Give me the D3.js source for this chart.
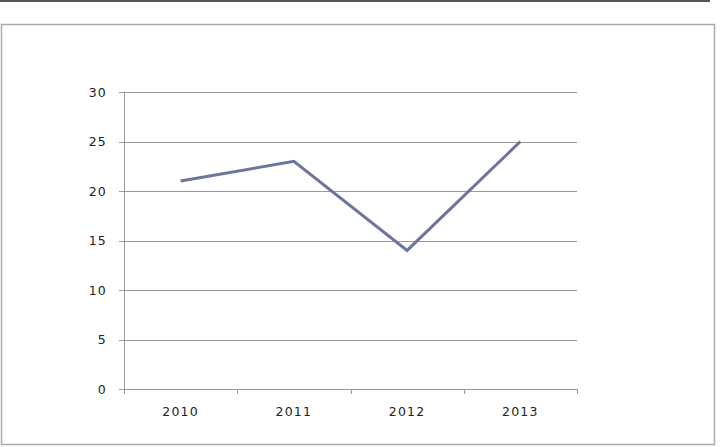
<!DOCTYPE html>
<html>
<head>
    <meta charset="utf-8">
    <title>line</title>
    <script src="https://d3js.org/d3.v7.min.js"></script>
    <style>body { margin: 0px; background: #fff; } svg { display: block; }</style>
</head>
<body>
<svg width="720" height="447"></svg>
<script>

    var years = ["2010", "2011", "2012", "2013"],
        values = [21, 23, 14, 25],
        yTicks = [0, 5, 10, 15, 20, 25, 30];

    var svg = d3.select("svg"),
        plotLeft = 124, plotRight = 577, plotTop = 92, plotBottom = 389;

    // page rule and chart frame
    svg.append("rect").attr("x", 0).attr("y", 0).attr("width", 710).attr("height", 2).attr("fill", "#555");
    svg.append("rect").attr("x", 1.5).attr("y", 24.5).attr("width", 713).attr("height", 420)
        .attr("fill", "#fff").attr("stroke", "#aaa").attr("stroke-width", 1.5);

    var x = d3.scaleBand().domain(years).range([plotLeft, plotRight]),
        y = d3.scaleLinear().domain([0, 30]).range([plotBottom, plotTop]);

    var font = "'DejaVu Sans', Verdana, sans-serif";

    // gridlines
    svg.append("g").selectAll("line").data(yTicks).enter().append("line")
        .attr("x1", plotLeft - 5).attr("x2", plotRight)
        .attr("y1", function (d) { return Math.round(y(d)) + 0.5; })
        .attr("y2", function (d) { return Math.round(y(d)) + 0.5; })
        .attr("stroke", "#999").attr("stroke-width", 1);

    // y axis line
    svg.append("line").attr("x1", plotLeft + 0.5).attr("x2", plotLeft + 0.5).attr("y1", plotTop).attr("y2", plotBottom + 5)
        .attr("stroke", "#999");

    // y labels
    svg.append("g").selectAll("text").data(yTicks).enter().append("text")
        .attr("x", 107).attr("y", function (d) { return y(d) + 4.5; })
        .attr("text-anchor", "end")
        .attr("font-family", font).attr("font-size", 12.5).attr("letter-spacing", 1.2)
        .attr("fill", "#222")
        .text(function (d) { return d; });

    // x ticks at band edges
    var edges = years.map(function (d) { return x(d); }).concat([plotRight]);
    svg.append("g").selectAll("line").data(edges).enter().append("line")
        .attr("x1", function (d) { return Math.round(d) + 0.5; })
        .attr("x2", function (d) { return Math.round(d) + 0.5; })
        .attr("y1", plotBottom).attr("y2", plotBottom + 5)
        .attr("stroke", "#999");

    // x labels
    svg.append("g").selectAll("text").data(years).enter().append("text")
        .attr("x", function (d) { return x(d) + x.bandwidth() / 2; })
        .attr("y", 416)
        .attr("text-anchor", "middle")
        .attr("font-family", font).attr("font-size", 12.5).attr("letter-spacing", 1.2)
        .attr("fill", "#222")
        .text(function (d) { return d; });

    // series line
    var line = d3.line()
        .x(function (d, i) { return x(years[i]) + x.bandwidth() / 2; })
        .y(function (d) { return y(d); });

    svg.append("path").datum(values)
        .attr("d", line)
        .attr("fill", "none")
        .attr("stroke", "#6e74a0")
        .attr("stroke-width", 3)
        .attr("stroke-linejoin", "miter");

</script>
</body>
</html>
